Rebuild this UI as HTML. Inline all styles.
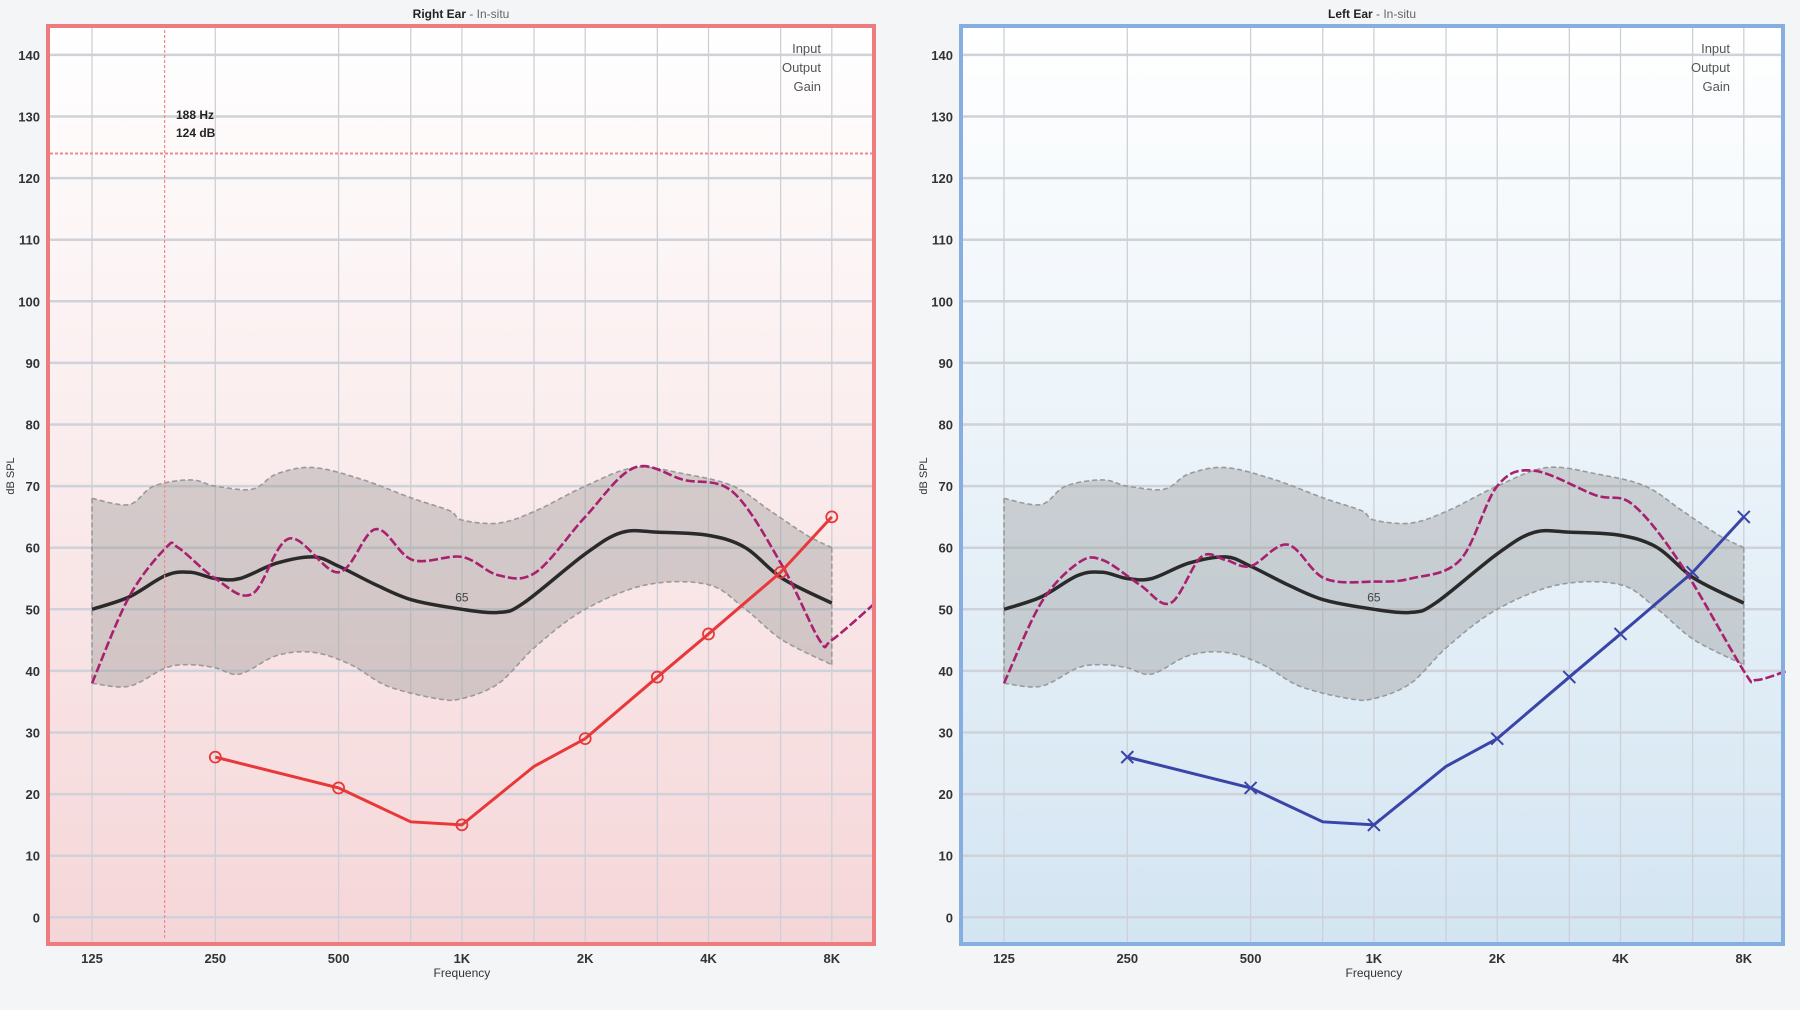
<!DOCTYPE html>
<html><head><meta charset="utf-8">
<style>
html,body{margin:0;padding:0;background:#f4f5f7;}
svg{display:block;font-family:"Liberation Sans",sans-serif;}
</style></head>
<body>
<svg id="s" width="1800" height="1010" viewBox="0 0 1800 1010" xmlns="http://www.w3.org/2000/svg">
<defs>
<linearGradient id="gr" x1="0" y1="0" x2="0" y2="1"><stop offset="0" stop-color="#ffffff"/><stop offset="1" stop-color="#f5d6d8"/></linearGradient>
<linearGradient id="gb" x1="0" y1="0" x2="0" y2="1"><stop offset="0" stop-color="#ffffff"/><stop offset="1" stop-color="#d3e5f2"/></linearGradient>
</defs>
</svg>
<script>
var S=document.getElementById('s'),NS='http://www.w3.org/2000/svg';
function el(t,a,txt){var e=document.createElementNS(NS,t);for(var k in a)e.setAttribute(k,a[k]);if(txt!==undefined)e.textContent=txt;S.appendChild(e);return e;}
var OCT=123.3;function Y(v){return 917.3-v*6.16;}
function smooth(pts){var d='M'+pts[0][0].toFixed(1)+','+pts[0][1].toFixed(1);
for(var i=0;i<pts.length-1;i++){var p0=pts[Math.max(0,i-1)],p1=pts[i],p2=pts[i+1],p3=pts[Math.min(pts.length-1,i+2)];
d+=' C'+(p1[0]+(p2[0]-p0[0])/6).toFixed(1)+','+(p1[1]+(p2[1]-p0[1])/6).toFixed(1)+' '+(p2[0]-(p3[0]-p1[0])/6).toFixed(1)+','+(p2[1]-(p3[1]-p1[1])/6).toFixed(1)+' '+p2[0].toFixed(1)+','+p2[1].toFixed(1);}return d;}
var upper=[[0,68],[0.3,67],[0.5,70],[0.8,71],[1.0,70],[1.3,69.5],[1.5,72],[1.8,73],[2.2,71],[2.6,68],[2.9,66],[3.0,64.5],[3.3,64],[3.6,66],[4.0,70],[4.4,73],[4.8,72],[5.2,70],[5.5,66],[5.8,62],[6.0,60]];
var lower=[[0,38],[0.3,37.5],[0.6,40.5],[0.8,41],[1.0,40.5],[1.2,39.5],[1.5,42.5],[1.8,43],[2.1,41],[2.4,37.5],[2.8,35.5],[3.0,35.5],[3.3,38],[3.6,44],[4.0,50],[4.5,54],[5.0,54],[5.3,50],[5.6,45],[6.0,41]];
var blk=[[0,50],[0.3,52],[0.6,55.5],[0.8,56],[1.0,55],[1.2,55],[1.5,57.5],[1.8,58.5],[2.0,57],[2.3,54],[2.6,51.5],[3.0,50],[3.3,49.5],[3.5,51],[4.0,59],[4.3,62.5],[4.6,62.5],[5.0,62],[5.3,60],[5.6,55],[6.0,51]];
var magR=[[0,38],[0.3,52],[0.6,60],[0.7,60],[1.0,55],[1.3,52.5],[1.6,61.5],[2.0,56],[2.3,63],[2.6,58],[3.0,58.5],[3.3,55.5],[3.6,56],[4.0,65],[4.4,73],[4.8,71],[5.2,69],[5.6,57],[5.9,45],[6.0,45],[6.35,51]];
var magL=[[0,38],[0.3,51],[0.6,57.5],[0.8,58],[1.1,54],[1.35,51],[1.6,58.5],[1.8,58],[2.0,57],[2.3,60.5],[2.6,55],[3.0,54.5],[3.3,55],[3.7,58],[4.0,70],[4.3,72.5],[4.8,68.5],[5.1,67],[5.5,57],[6.0,40],[6.1,38.5],[6.35,40]];
var thr=[[1,26],[2,21],[2.585,15.5],[3,15],[3.585,24.5],[4,29],[4.585,39],[5,46],[5.585,56],[6,65]];
var mk=[0,1,3,5,6,7,8,9];
function panel(off,left,right,fill,bcol,title,mag,col,xmark){
 var X=function(o){return off+92+o*OCT;};
 el('rect',{x:left,y:26,width:right-left,height:918,fill:fill});
 // grid
 for(var v=0;v<=140;v+=10)el('line',{x1:left,x2:right,y1:Y(v),y2:Y(v),stroke:'#cfd2d8','stroke-width':2.5});
 [0,1,2,2.585,3,3.585,4,4.585,5,5.585,6].forEach(function(o){el('line',{x1:X(o),x2:X(o),y1:26,y2:944,stroke:'#cdd0d6','stroke-width':1.3});});
 // band
 var up=upper.map(function(p){return[X(p[0]),Y(p[1])];}),lo=lower.map(function(p){return[X(p[0]),Y(p[1])];});
 var d=smooth(up)+' L'+lo[lo.length-1][0]+','+lo[lo.length-1][1]+' '+smooth(lo.slice().reverse()).slice(1)+' Z';
 el('path',{d:d,fill:'rgba(150,150,150,0.38)',stroke:'none'});
 el('path',{d:smooth(up),fill:'none',stroke:'#9a9a9a','stroke-width':1.6,'stroke-dasharray':'5 3'});
 el('path',{d:smooth(lo),fill:'none',stroke:'#9a9a9a','stroke-width':1.6,'stroke-dasharray':'5 3'});
 el('line',{x1:X(0),x2:X(0),y1:Y(68),y2:Y(38),stroke:'#9a9a9a','stroke-width':1.6,'stroke-dasharray':'5 3'});
 el('line',{x1:X(6),x2:X(6),y1:Y(60),y2:Y(41),stroke:'#9a9a9a','stroke-width':1.6,'stroke-dasharray':'5 3'});
 el('path',{d:smooth(blk.map(function(p){return[X(p[0]),Y(p[1])];})),fill:'none',stroke:'#2a2a2a','stroke-width':3.5});
 el('text',{x:X(3.0),y:Y(51.3),'font-size':12,fill:'#444','text-anchor':'middle'},'65');
 el('path',{d:smooth(mag.map(function(p){return[X(p[0]),Y(p[1])];})),fill:'none',stroke:'#a8206e','stroke-width':2.6,'stroke-dasharray':'9 3'});
 var tp=thr.map(function(p){return[X(p[0]),Y(p[1])];});
 el('polyline',{points:tp.map(function(p){return p.join(',');}).join(' '),fill:'none',stroke:col,'stroke-width':3});
 mk.forEach(function(i){var p=tp[i];
  if(xmark){el('path',{d:'M'+(p[0]-6)+','+(p[1]-6)+' L'+(p[0]+6)+','+(p[1]+6)+' M'+(p[0]-6)+','+(p[1]+6)+' L'+(p[0]+6)+','+(p[1]-6),stroke:col,'stroke-width':2,fill:'none'});}
  else el('circle',{cx:p[0],cy:p[1],r:5.5,fill:'none',stroke:col,'stroke-width':1.8});});
 el('rect',{x:left,y:26,width:right-left,height:918,fill:'none',stroke:bcol,'stroke-width':4});
 // labels
 for(var v=0;v<=140;v+=10)el('text',{x:left-8,y:Y(v)+5,'font-size':13,'font-weight':'bold',fill:'#333','text-anchor':'end'},String(v));
 ['125','250','500','1K','2K','4K','8K'].forEach(function(t,i){el('text',{x:X(i),y:963,'font-size':13,'font-weight':'bold',fill:'#333','text-anchor':'middle'},t);});
 el('text',{x:X(3),y:977,'font-size':12,fill:'#333','text-anchor':'middle'},'Frequency');
 var t=el('text',{x:(left+right)/2,y:18,'font-size':12,fill:'#222','text-anchor':'middle'});
 var a=document.createElementNS(NS,'tspan');a.setAttribute('font-weight','bold');a.textContent=title;t.appendChild(a);
 var b=document.createElementNS(NS,'tspan');b.setAttribute('fill','#666');b.textContent=' - In-situ';t.appendChild(b);
 ['Input','Output','Gain'].forEach(function(s,i){el('text',{x:right-53,y:53+i*19,'font-size':13,fill:'#555','text-anchor':'end'},s);});
 el('text',{x:0,y:0,'font-size':11,fill:'#333','text-anchor':'middle',transform:'translate('+(left-34)+',476) rotate(-90)'},'dB SPL');
}
panel(0,48,874,'url(#gr)','#ee7b7e','Right Ear',magR,'#e8383a',false);
panel(912,961,1783,'url(#gb)','#86aee0','Left Ear',magL,'#3a45a8',true);
// cursor on right ear
el('line',{x1:164.6,x2:164.6,y1:30,y2:940,stroke:'#f08a8c','stroke-width':1.2,'stroke-dasharray':'3 2'});
el('line',{x1:50,x2:872,y1:153.5,y2:153.5,stroke:'#f08a8c','stroke-width':2,'stroke-dasharray':'3 2'});
el('text',{x:176,y:119,'font-size':12,'font-weight':'bold',fill:'#222'},'188 Hz');
el('text',{x:176,y:137,'font-size':12,'font-weight':'bold',fill:'#222'},'124 dB');
</script>
</body></html>
